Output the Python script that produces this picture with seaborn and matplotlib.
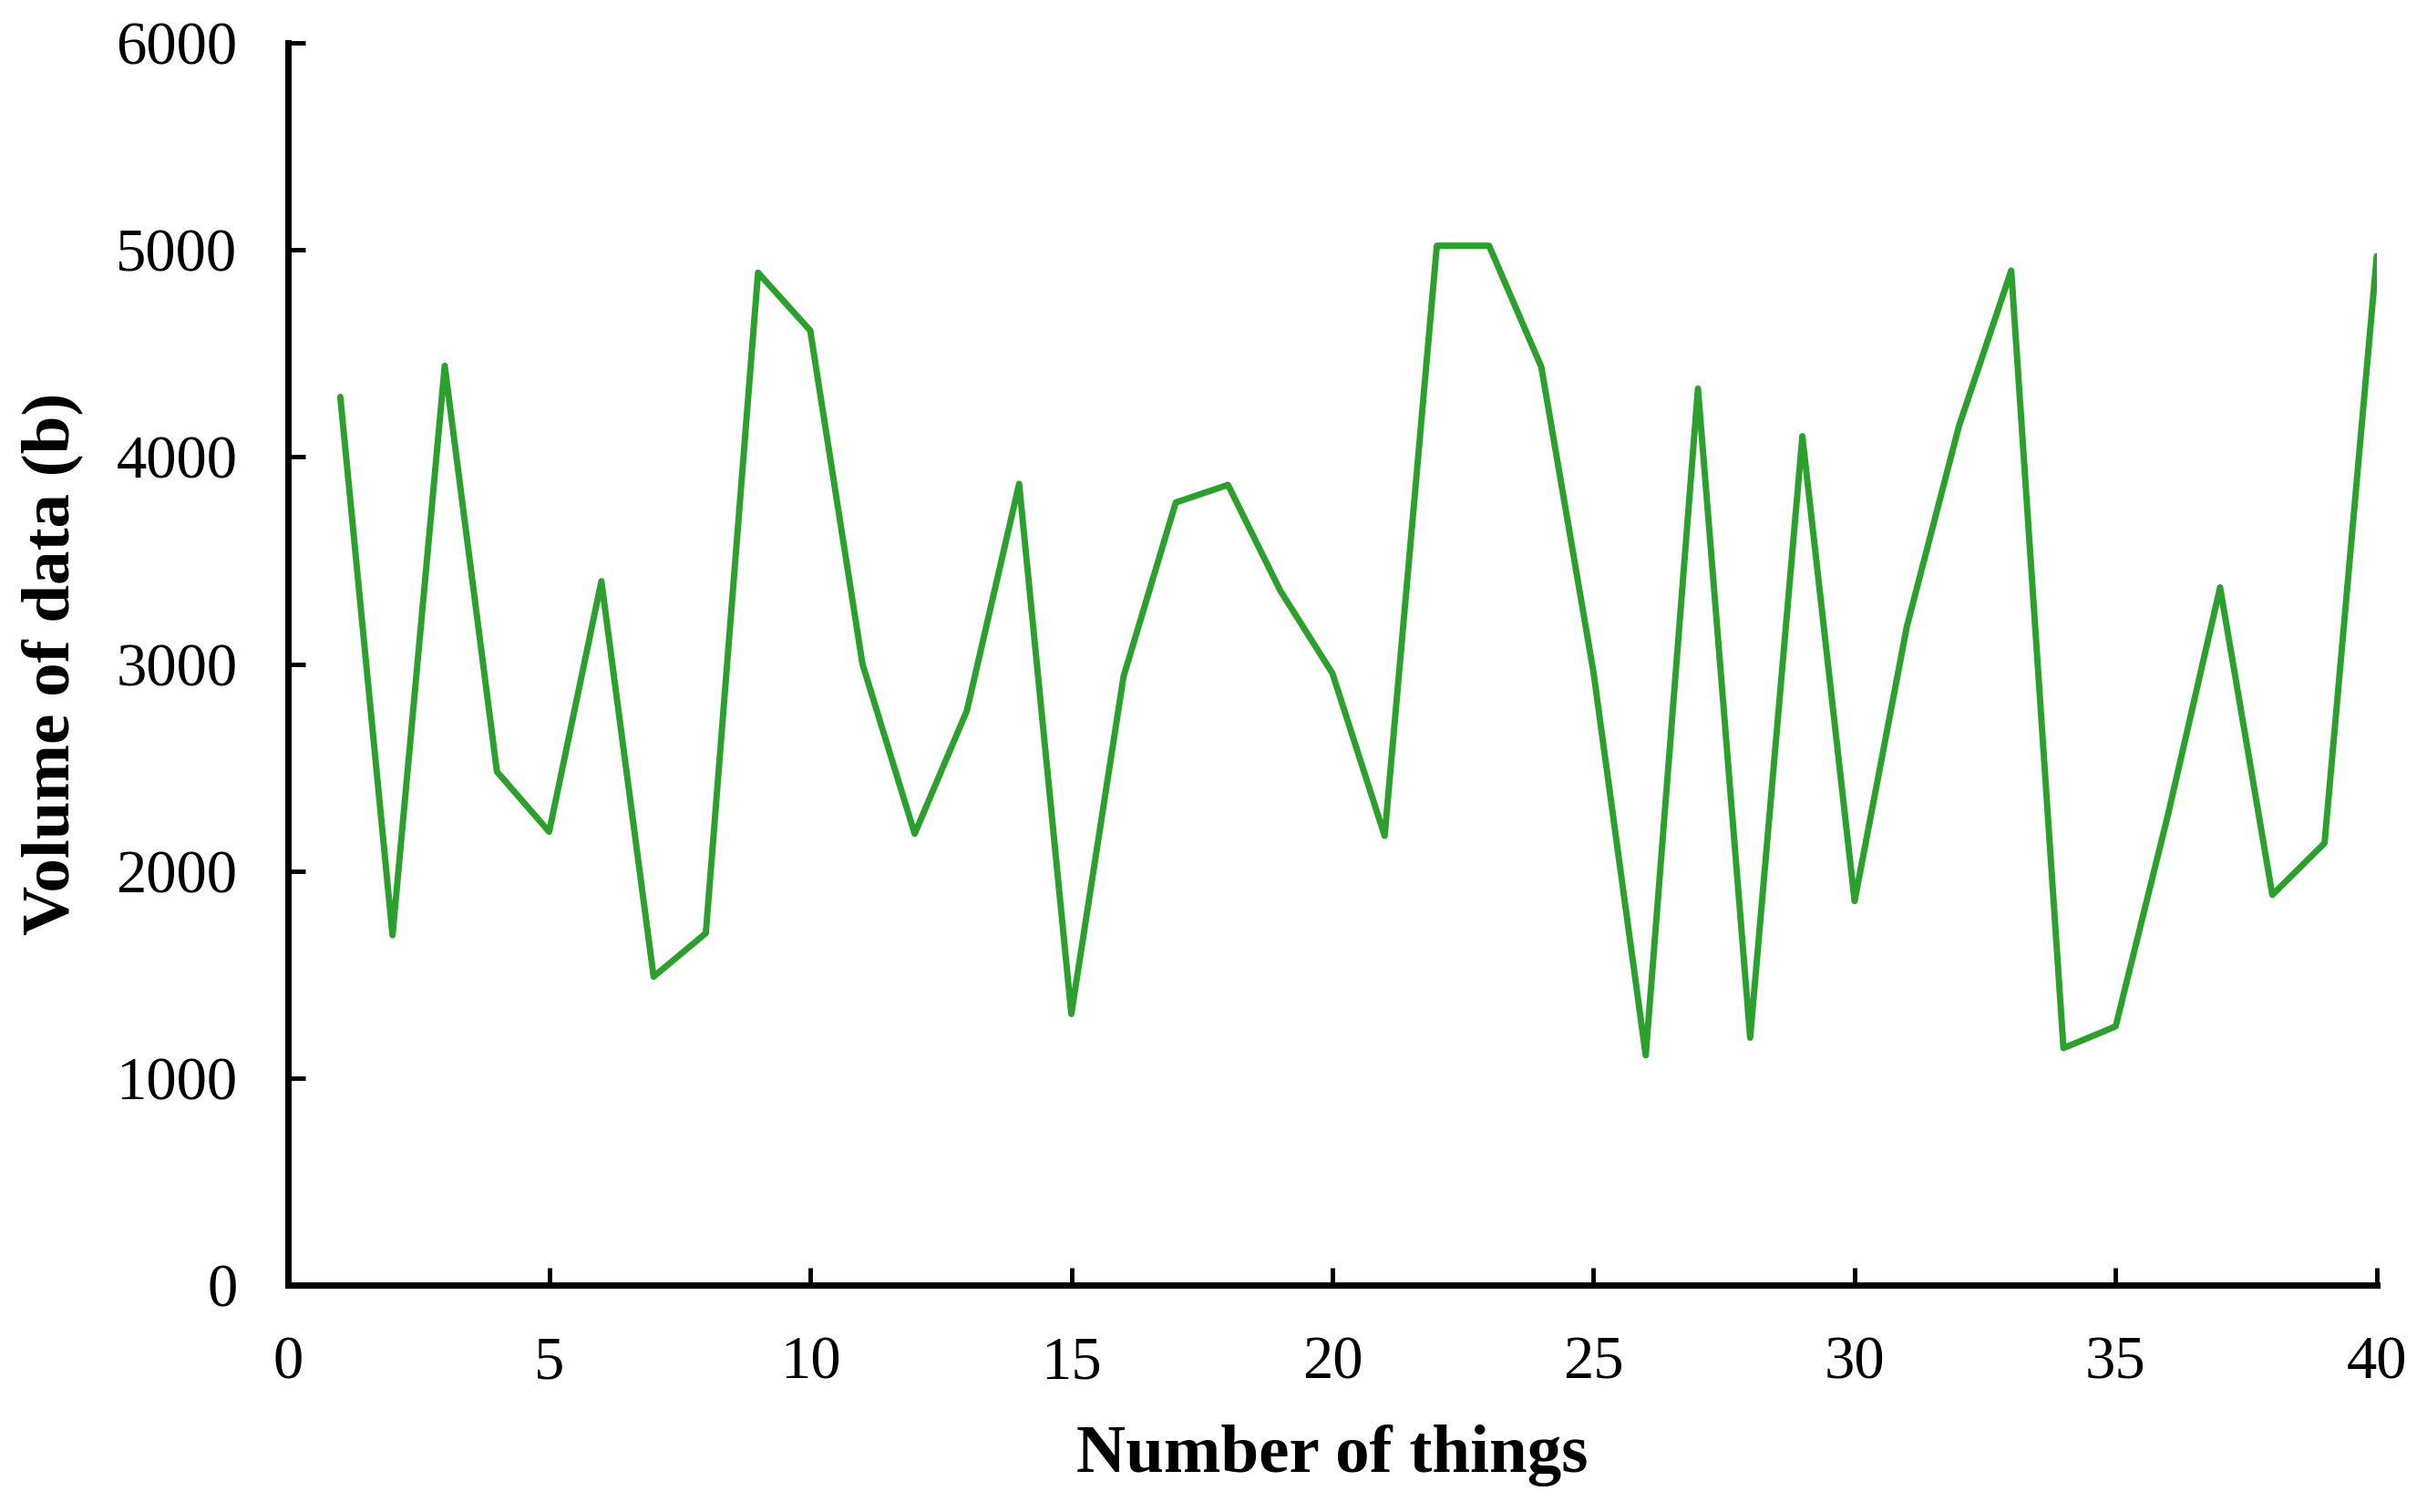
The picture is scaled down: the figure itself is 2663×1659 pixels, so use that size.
import numpy as np
import pandas as pd
import matplotlib
matplotlib.use("Agg")
import matplotlib.pyplot as plt
import seaborn as sns

# ── data ──────────────────────────────────────────────────────────────────────
things = list(range(1, 41))
volume = [4290, 1690, 4440, 2480, 2190, 3400, 1490, 1700, 4890, 4610,
          3000, 2180, 2775, 3870, 1310, 2940, 3780, 3865, 3355, 2955,
          2170, 5020, 5020, 4435, 2960, 1110, 4330, 1195, 4100, 1855,
          3180, 4150, 4900, 1145, 1250, 2270, 3370, 1885, 2135, 4970]

x_ticks = [0, 5, 10, 15, 20, 25, 30, 35, 40]
y_ticks = [0, 1000, 2000, 3000, 4000, 5000, 6000]

df = pd.DataFrame({"Number of things": things, "Volume of data (b)": volume})

sns.set_style("ticks")
plt.rcParams["font.family"] = ["Liberation Serif", "DejaVu Serif"]
plt.rcParams["axes.labelcolor"] = "black"

fig, ax = plt.subplots(figsize=(26.63, 16.59), dpi=100)
fig.subplots_adjust(left=0.1187, right=0.9793, top=0.9717, bottom=0.150)

sns.lineplot(data=df, x="Number of things", y="Volume of data (b)",
             color="#2ca02c", lw=5, ax=ax)

ax.set_xlim(0, 40)
ax.set_ylim(0, 6000)
ax.set_xticks(x_ticks)
ax.set_yticks(y_ticks)

sns.despine(ax=ax)
for side in ["left", "bottom"]:
    ax.spines[side].set_linewidth(5)
    ax.spines[side].set_color("black")

ax.tick_params(direction="in", length=14, width=3.5, labelsize=48, pad=40,
               colors="black")

ax.set_xlabel("Number of things", fontsize=54, fontweight="bold", labelpad=26)
ax.set_ylabel("Volume of data (b)", fontsize=54, fontweight="bold", labelpad=26)

plt.savefig("out.png", dpi=100)
